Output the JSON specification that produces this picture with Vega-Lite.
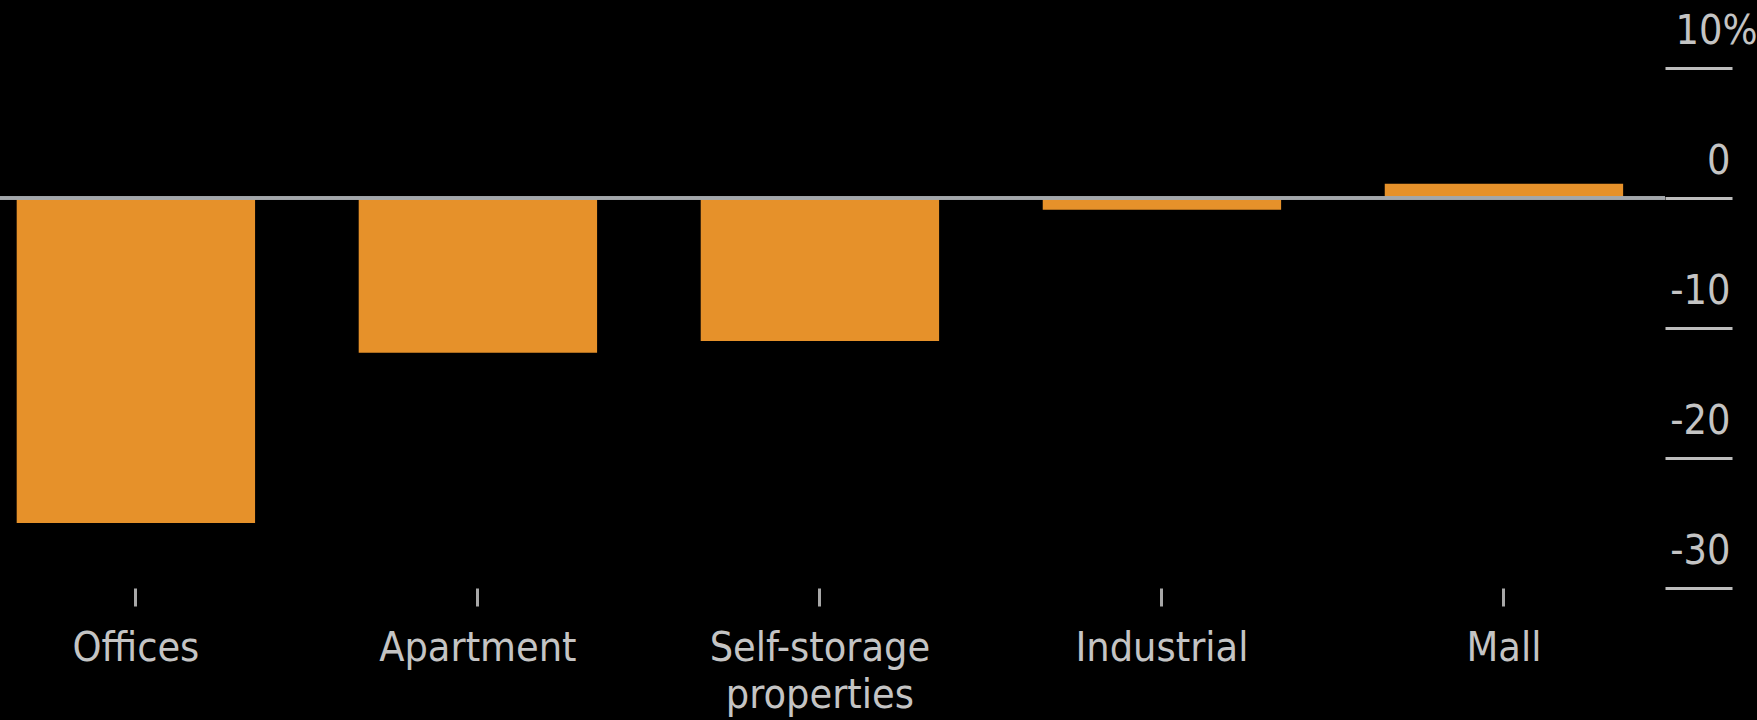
{
  "$schema": "https://vega.github.io/schema/vega-lite/v6.json",
  "autosize": {"type": "none"},
  "width": 1665,
  "height": 520,
  "padding": {"left": 0, "top": 68, "right": 92, "bottom": 132},
  "background": "#000000",
  "config": {
    "view": {"stroke": null},
    "font": "DejaVu Sans Condensed"
  },
  "data": {
    "values": [
      {"type": "Offices", "change": -25.0},
      {"type": "Apartment", "change": -11.9},
      {"type": "Self-storage properties", "change": -11.0},
      {"type": "Industrial", "change": -0.9},
      {"type": "Mall", "change": 1.1}
    ]
  },
  "layer": [
    {
      "mark": {"type": "bar", "color": "#E6912A"},
      "encoding": {
        "x": {
          "field": "type",
          "type": "nominal",
          "sort": null,
          "scale": {"paddingInner": 0.303, "paddingOuter": 0.0856, "align": 0.285},
          "axis": {
            "title": null,
            "orient": "bottom",
            "domain": false,
            "ticks": true,
            "tickSize": 18,
            "tickWidth": 3,
            "tickColor": "#a8a8a8",
            "labelAngle": 0,
            "labelFont": "DejaVu Sans Condensed",
            "labelFontSize": 41,
            "labelColor": "#c4c4c4",
            "labelPadding": 22,
            "labelLineHeight": 47,
            "labelBaseline": "top",
            "labelOverlap": false,
            "labelBound": false,
            "labelFlush": false,
            "labelLimit": 0,
            "labelExpr": "datum.value == 'Self-storage properties' ? ['Self-storage', 'properties'] : datum.label"
          }
        },
        "y": {
          "field": "change",
          "type": "quantitative",
          "scale": {"domain": [-30, 10], "nice": false},
          "axis": {
            "title": null,
            "orient": "right",
            "domain": false,
            "grid": false,
            "values": [-30, -20, -10, 0, 10],
            "ticks": true,
            "tickSize": 67,
            "tickWidth": 3,
            "tickColor": "#bdbdbd",
            "labelFont": "DejaVu Sans Condensed",
            "labelFontSize": 41,
            "labelColor": "#c4c4c4",
            "labelAlign": "right",
            "labelBaseline": "alphabetic",
            "labelOffset": -25,
            "labelPadding": {"condition": {"test": "datum.value == 10", "value": 25}, "value": -2},
            "labelOverlap": false,
            "labelBound": false,
            "labelFlush": false,
            "labelExpr": "datum.value == 10 ? '10%' : '' + datum.value"
          }
        }
      }
    },
    {
      "mark": {"type": "rule", "color": "#a3a7ab", "strokeWidth": 3},
      "encoding": {"y": {"datum": 0}}
    }
  ]
}
